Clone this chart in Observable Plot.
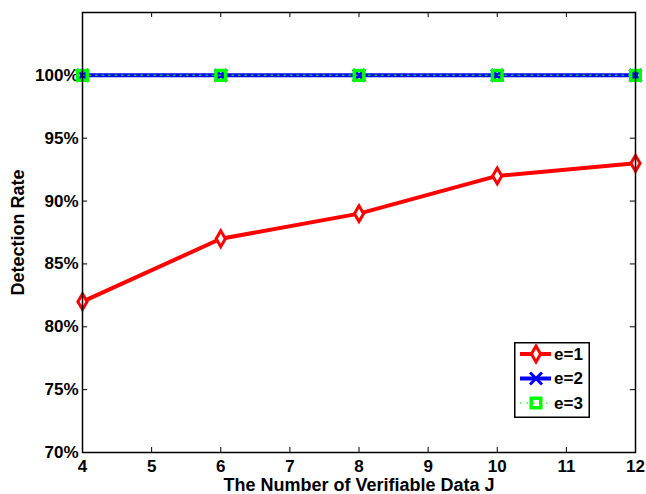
<!DOCTYPE html>
<html>
<head>
<meta charset="utf-8">
<script src="https://cdn.jsdelivr.net/npm/d3@7"></script>
<script src="https://cdn.jsdelivr.net/npm/@observablehq/plot@0.6"></script>
<style>
  html, body { margin: 0; padding: 0; background: #fff; }
  #wrap { position: relative; width: 646px; height: 494px; }
  #wrap svg text { font-family: "Liberation Sans", Arial, Helvetica, sans-serif; font-weight: bold; }
  #wrap svg g[aria-label="x-axis tick label"], #wrap svg g[aria-label="y-axis tick label"] { font-size: 17px !important; }
</style>
</head>
<body>
<div id="wrap"></div>
<script>
// Data
const xValues = [4, 6, 8, 10, 12];
const e1 = [82, 87, 89, 92, 93];
const e2 = [100, 100, 100, 100, 100];
const e3 = [100, 100, 100, 100, 100];
const seriesNames = ["e=1", "e=2", "e=3"];
const xTicks = [4, 5, 6, 7, 8, 9, 10, 11, 12];
const yTicks = [70, 75, 80, 85, 90, 95, 100];
const xDomain = [4, 12];
const yDomain = [70, 105];

const d1 = xValues.map((x, i) => ({x, y: e1[i]}));
const d2 = xValues.map((x, i) => ({x, y: e2[i]}));
const d3v = xValues.map((x, i) => ({x, y: e3[i]}));

const red = "#ff0000", blue = "#0000ff", green = "#00ff00";
const tx = 0.075, ty = 0.4; // inward tick lengths in data units

const chart = Plot.plot({
  width: 646,
  height: 494,
  marginLeft: 82,
  marginRight: 11,
  marginTop: 12,
  marginBottom: 42,
  style: {fontFamily: "'Liberation Sans', Arial, sans-serif", fontSize: "17px", fontWeight: "bold", background: "#fff", color: "#000"},
  x: {domain: xDomain},
  y: {domain: yDomain},
  marks: [
    Plot.axisX(xTicks, {tickSize: 0, tickPadding: 7, label: null, fontSize: 17, fill: "#000"}),
    Plot.axisY(yTicks, {tickSize: 0, tickPadding: 4, label: null, tickFormat: d => d + "%", fontSize: 17, fill: "#000"}),
    // inward ticks on all four sides
    Plot.ruleX(xTicks, {y1: yDomain[0], y2: yDomain[0] + ty, stroke: "#000", strokeWidth: 1}),
    Plot.ruleX(xTicks, {y1: yDomain[1] - ty, y2: yDomain[1], stroke: "#000", strokeWidth: 1}),
    Plot.ruleY(yTicks, {x1: xDomain[0], x2: xDomain[0] + tx, stroke: "#000", strokeWidth: 1}),
    Plot.ruleY(yTicks, {x1: xDomain[1] - tx, x2: xDomain[1], stroke: "#000", strokeWidth: 1}),
    // e=1
    Plot.line(d1, {x: "x", y: "y", stroke: red, strokeWidth: 4}),
    Plot.dot(d1, {x: "x", y: "y", symbol: "diamond", r: 4.8, stroke: red, strokeWidth: 3, fill: "#fff"}),
    // e=2
    Plot.line(d2, {x: "x", y: "y", stroke: blue, strokeWidth: 4}),
    Plot.dot(d2, {x: "x", y: "y", symbol: "times", r: 5.5, stroke: blue, strokeWidth: 3}),
    // e=3
    Plot.line(d3v, {x: "x", y: "y", stroke: green, strokeWidth: 1.5, strokeDasharray: "1.5,5", strokeOpacity: 0.8}),
    Plot.dot(d3v, {x: "x", y: "y", symbol: "square", r: 5.4, stroke: green, strokeWidth: 3.5, fill: "none"}),
    Plot.frame({stroke: "#000", strokeWidth: 1.5}),
    Plot.text(["Detection Rate"], {frameAnchor: "left", dx: -64, rotate: -90, textAnchor: "middle", lineAnchor: "middle", fontSize: 18, fill: "#000"}),
    Plot.text(["The Number of Verifiable Data J"], {frameAnchor: "bottom", dy: 33, textAnchor: "middle", lineAnchor: "middle", fontSize: 18, fill: "#000"})
  ]
});

const wrap = document.getElementById("wrap");
wrap.appendChild(chart);

// Legend
const ns = "http://www.w3.org/2000/svg";
const lg = document.createElementNS(ns, "svg");
lg.setAttribute("width", 76);
lg.setAttribute("height", 76);
lg.style.position = "absolute";
lg.style.left = "514px";
lg.style.top = "342px";
const styles = [
  {stroke: red, width: 4, dash: null, symbol: d3.symbolDiamond, r: 4.8, sw: 3, fill: "#fff"},
  {stroke: blue, width: 4, dash: null, symbol: d3.symbolTimes, r: 5.5, sw: 3, fill: "none"},
  {stroke: green, width: 1.5, dash: "1.5,5", symbol: d3.symbolSquare, r: 5.4, sw: 3.5, fill: "none"}
];
let html = `<rect x="0.75" y="0.75" width="74.5" height="74.5" fill="#fff" stroke="#000" stroke-width="1.5"/>`;
seriesNames.forEach((name, i) => {
  const s = styles[i];
  const y = 12 + i * 24.5;
  html += `<line x1="6" x2="37" y1="${y}" y2="${y}" stroke="${s.stroke}" stroke-width="${s.width}" ${s.dash ? `stroke-dasharray="${s.dash}" stroke-opacity="0.8"` : ""}/>`;
  const path = d3.symbol(s.symbol, s.r * s.r * Math.PI)();
  html += `<path transform="translate(22,${y})" d="${path}" stroke="${s.stroke}" stroke-width="${s.sw}" fill="${s.fill}"/>`;
  html += `<text x="40" y="${y}" dy="0.35em" font-size="17" font-weight="bold" fill="#000">${name}</text>`;
});
lg.innerHTML = html;
wrap.appendChild(lg);
</script>
</body>
</html>
